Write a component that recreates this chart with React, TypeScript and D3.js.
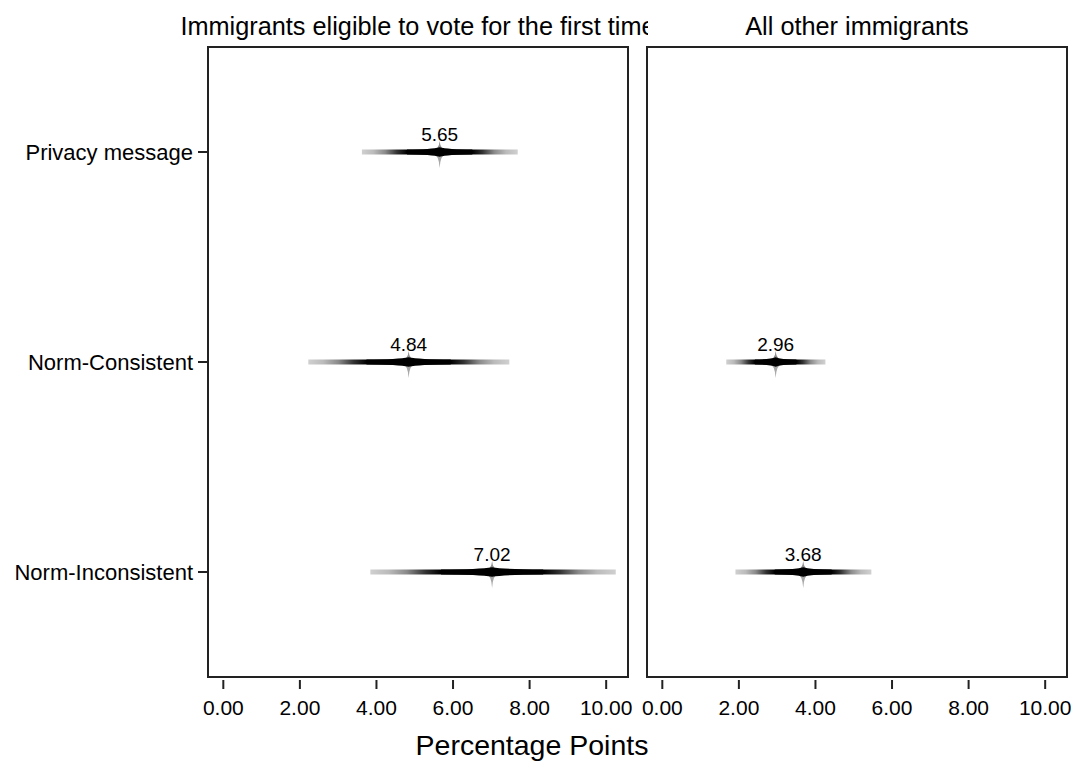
import * as d3 from "d3";
import React from "react";

const categories = ["Privacy message", "Norm-Consistent", "Norm-Inconsistent"];
const panelTitles = ["Immigrants eligible to vote for the first time", "All other immigrants"];
const xTicks = [0, 2, 4, 6, 8, 10];

// panel 1: first-time eligible
const firstEst = [5.65, 4.84, 7.02];
const firstLow = [3.62, 2.22, 3.84];
const firstHigh = [7.69, 7.47, 10.25];
// panel 2: all other immigrants (no privacy estimate)
const otherEst = [null, 2.96, 3.68];
const otherLow = [null, 1.67, 1.91];
const otherHigh = [null, 4.26, 5.46];

const W = 1074;
const H = 772;
const top = 47;
const bottom = 677;
const panels = [
  { left: 208, right: 628, est: firstEst, low: firstLow, high: firstHigh },
  { left: 647, right: 1067, est: otherEst, low: otherLow, high: otherHigh },
];
const font = "'Liberation Sans', Arial, sans-serif";

function Mark({ x, cy, est, low, high }) {
  const cx = x(est);
  const x0 = x(low);
  const x1 = x(high);
  const L = Math.min(cx - x0, x1 - cx) * 0.42;
  const lens = `M${cx - L},${cy - 2.5} Q${cx - L * 0.25},${cy - 2.6} ${cx},${cy - 4.8} Q${cx + L * 0.25},${cy - 2.6} ${cx + L},${cy - 2.5} L${cx + L},${cy + 2.5} Q${cx + L * 0.25},${cy + 2.6} ${cx},${cy + 4.8} Q${cx - L * 0.25},${cy + 2.6} ${cx - L},${cy + 2.5} Z`;
  const spikeUp = `M${cx},${cy - 11} Q${cx + 0.5},${cy - 3} ${cx + 8},${cy} L${cx - 8},${cy} Q${cx - 0.5},${cy - 3} ${cx},${cy - 11} Z`;
  const spikeDown = `M${cx},${cy + 16} Q${cx + 0.5},${cy + 3} ${cx + 8},${cy} L${cx - 8},${cy} Q${cx - 0.5},${cy + 3} ${cx},${cy + 16} Z`;
  const gid = "g" + Math.round(cx) + "_" + Math.round(cy);
  const pc = ((cx - x0) / (x1 - x0)) * 100;
  const lft = (f) => `${pc * f}%`;
  const rgt = (f) => `${100 - (100 - pc) * f}%`;
  return (
    <g>
      <defs>
        <linearGradient id={gid} x1="0" x2="1" y1="0" y2="0">
          <stop offset="0%" stopColor="#d0d0d0" />
          <stop offset={lft(0.15)} stopColor="#bbbbbb" />
          <stop offset={lft(0.3)} stopColor="#8a8a8a" />
          <stop offset={lft(0.45)} stopColor="#333333" />
          <stop offset={lft(0.58)} stopColor="#000000" />
          <stop offset={rgt(0.58)} stopColor="#000000" />
          <stop offset={rgt(0.45)} stopColor="#333333" />
          <stop offset={rgt(0.3)} stopColor="#8a8a8a" />
          <stop offset={rgt(0.15)} stopColor="#bbbbbb" />
          <stop offset="100%" stopColor="#d0d0d0" />
        </linearGradient>
      </defs>
      <path d={spikeUp} fill="#8f8f8f" />
      <path d={spikeDown} fill="#a8a8a8" />
      <rect x={x0} y={cy - 2.5} width={x1 - x0} height={5} fill={`url(#${gid})`} />
      <path d={lens} fill="#000" />
      <text x={cx} y={cy - 11} textAnchor="middle" fontSize={19} fill="#000">
        {est.toFixed(2)}
      </text>
    </g>
  );
}

export default function App() {
  const y = d3.scalePoint().domain(categories).range([top, bottom]).padding(0.5);

  return (
    <svg width={W} height={H} style={{ position: "absolute", left: 0, top: 0, background: "#fff" }} fontFamily={font}>
      <defs>
        <clipPath id="titleclip">
          <rect x={0} y={0} width={648} height={46} />
        </clipPath>
      </defs>
      {panels.map((p, pi) => {
        const x = d3.scaleLinear().domain([-0.4, 10.57]).range([p.left, p.right]);
        return (
          <g key={pi}>
            <text
              x={(p.left + p.right) / 2}
              y={35}
              textAnchor="middle"
              fontSize={25.3}
              fill="#000"
              clipPath={pi === 0 ? "url(#titleclip)" : undefined}
            >
              {panelTitles[pi]}
            </text>
            <rect x={p.left} y={top} width={p.right - p.left} height={bottom - top} fill="none" stroke="#222" strokeWidth={2} />
            {xTicks.map((t) => (
              <g key={t}>
                <line x1={x(t)} x2={x(t)} y1={680} y2={689} stroke="#222" strokeWidth={2} />
                <text x={x(t)} y={715} textAnchor="middle" fontSize={21} fill="#000">
                  {t.toFixed(2)}
                </text>
              </g>
            ))}
            {categories.map((c, i) =>
              p.est[i] == null ? null : (
                <Mark key={c} x={x} cy={y(c)} est={p.est[i]} low={p.low[i]} high={p.high[i]} />
              )
            )}
          </g>
        );
      })}
      {categories.map((c) => (
        <g key={c}>
          <line x1={198} x2={208} y1={y(c)} y2={y(c)} stroke="#222" strokeWidth={2} />
          <text x={193} y={y(c)} dy="0.35em" textAnchor="end" fontSize={22} fill="#000">
            {c}
          </text>
        </g>
      ))}
      <text x={532} y={755} textAnchor="middle" fontSize={28.5} fill="#000">
        Percentage Points
      </text>
    </svg>
  );
}
